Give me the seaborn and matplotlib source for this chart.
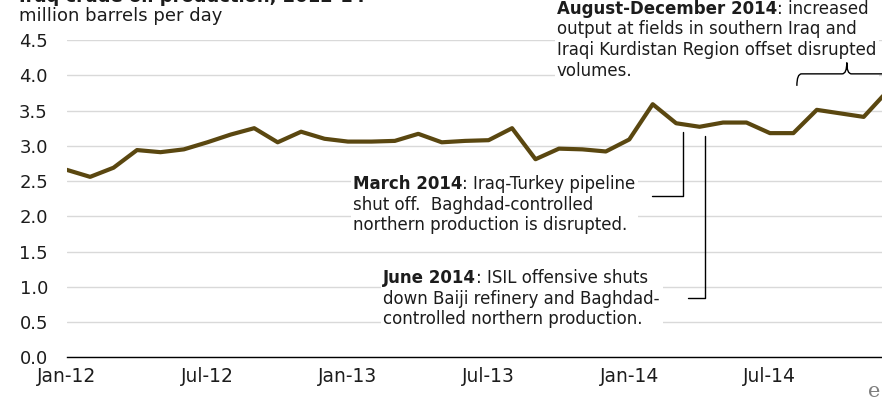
import numpy as np
import pandas as pd
import matplotlib
matplotlib.use("Agg")
import matplotlib.pyplot as plt
import seaborn as sns
from matplotlib.patches import Rectangle, PathPatch
from matplotlib.path import Path
from matplotlib.transforms import Bbox

# Monthly Iraq crude oil production, million barrels per day
months = pd.date_range("2012-01-01", "2014-12-01", freq="MS")
production = [2.66, 2.56, 2.69, 2.94, 2.91, 2.95, 3.05, 3.16, 3.25, 3.05, 3.20, 3.10,
              3.06, 3.06, 3.07, 3.17, 3.05, 3.07, 3.08, 3.25, 2.81, 2.96, 2.95, 2.92,
              3.09, 3.59, 3.32, 3.27, 3.33, 3.33, 3.18, 3.18, 3.51, 3.46, 3.41, 3.77]
tick_labels = ["Jan-12", "Jul-12", "Jan-13", "Jul-13", "Jan-14", "Jul-14"]
y_ticks = [0.0, 0.5, 1.0, 1.5, 2.0, 2.5, 3.0, 3.5, 4.0, 4.5]

df = pd.DataFrame({"month": np.arange(len(months)), "production": production})

sns.set_style("white")
plt.rcParams["font.family"] = ["DejaVu Sans"]
TXT = "#1c1c1c"
FS = 13
NOTE_FS = 12

fig = plt.figure(figsize=(8.82, 3.98), dpi=100)
ax = fig.add_axes([0.0756, 0.1018, 1.0058 - 0.0756, 0.8995 - 0.1018])

sns.lineplot(data=df, x="month", y="production", ax=ax,
             color="#5a4710", linewidth=3.0, zorder=3)

ax.set_xlim(0, 35)
ax.set_ylim(0, 4.5)
ax.set_xlabel("")
ax.set_ylabel("")

ax.set_yticks(y_ticks)
ax.set_yticklabels([f"{v:.1f}" for v in y_ticks])
ax.set_xticks(np.arange(0, 36, 6))
ax.set_xticklabels(tick_labels)
ax.set_xticks(np.arange(0, 36), minor=True)

ax.set_axisbelow(True)
ax.yaxis.grid(True, color="#d9d9d9", linewidth=1.0)
ax.xaxis.grid(False)
for side in ("top", "right", "left"):
    ax.spines[side].set_visible(False)
ax.spines["bottom"].set_color("black")
ax.spines["bottom"].set_linewidth(1.0)

ax.tick_params(axis="y", length=0, pad=13.5, labelsize=FS, labelcolor=TXT)
ax.tick_params(axis="x", which="both", length=3.6, width=1.0, direction="out",
               color="black", pad=3, labelsize=13.5, labelcolor=TXT)

# Title (runs off the top edge) and unit label
fig.text(19 / 882, 1 - 1.5 / 398, "Iraq crude oil production, 2012-14",
         fontsize=FS, fontweight="bold", color=TXT, va="baseline", ha="left")
fig.text(19 / 882, 1 - 20.7 / 398, "million barrels per day",
         fontsize=FS, color=TXT, va="baseline", ha="left")

# Annotations
step = 0.293  # line spacing in data units


def note(x, y0, bold, rest, lines, box_extra_bottom=3):
    t1 = ax.text(x, y0, bold, fontsize=NOTE_FS, fontweight="bold", color=TXT,
                 va="baseline", ha="left", zorder=4, clip_on=False)
    t2 = ax.annotate(rest, xy=(1, 0), xycoords=t1, fontsize=NOTE_FS, color=TXT,
                     va="bottom", ha="left", zorder=4)
    texts = [t1, t2]
    for i, line in enumerate(lines):
        texts.append(ax.text(x, y0 - (i + 1) * step, line, fontsize=NOTE_FS, color=TXT,
                             va="baseline", ha="left", zorder=4, clip_on=False))
    return texts, box_extra_bottom


blocks = [
    note(12.2, 2.386, "March 2014", ": Iraq-Turkey pipeline",
         ["shut off.  Baghdad-controlled", "northern production is disrupted."]),
    note(13.5, 1.056, "June 2014", ": ISIL offensive shuts",
         ["down Baiji refinery and Baghdad-", "controlled northern production."]),
    note(20.9, 4.875, "August-December 2014", ": increased",
         ["output at fields in southern Iraq and",
          "Iraqi Kurdistan Region offset disrupted", "volumes."], box_extra_bottom=-3),
]

# Connector lines
ax.plot([24.97, 26.28, 26.28], [2.29, 2.29, 3.20], color="black", lw=1.0,
        zorder=2, clip_on=False)
ax.plot([26.5, 27.23, 27.23], [0.84, 0.84, 3.14], color="black", lw=1.0,
        zorder=2, clip_on=False)

# Curly bracket spanning August-December 2014
verts = [(31.15, 3.85), (31.15, 4.02), (31.35, 4.02),
         (33.08, 4.02),
         (33.28, 4.02), (33.28, 4.18),
         (33.28, 4.02), (33.48, 4.02),
         (35.6, 4.02)]
codes = [Path.MOVETO, Path.CURVE3, Path.CURVE3,
         Path.LINETO,
         Path.CURVE3, Path.CURVE3,
         Path.CURVE3, Path.CURVE3,
         Path.LINETO]
ax.add_patch(PathPatch(Path(verts, codes), fill=False, edgecolor="black",
                       lw=1.0, zorder=2, clip_on=False))

# Small logo mark in the corner
fig.text(868 / 882, 1 - 397 / 398, "e", fontsize=15, family="DejaVu Serif",
         color="#7f7f7f", va="baseline", ha="left")

# White backing behind each annotation block so gridlines break around the text
fig.canvas.draw()
renderer = fig.canvas.get_renderer()
inv = fig.transFigure.inverted()
for texts, extra in blocks:
    bb = Bbox.union([t.get_window_extent(renderer) for t in texts])
    x0, y0, x1, y1 = bb.x0 - 2, bb.y0 - extra, bb.x1 + 3, bb.y1 + 1
    (fx0, fy0), (fx1, fy1) = inv.transform([(x0, y0), (x1, y1)])
    rect = Rectangle((fx0, fy0), fx1 - fx0, fy1 - fy0, transform=fig.transFigure,
                     facecolor="white", edgecolor="none", zorder=1)
    ax.add_artist(rect)
    rect.set_clip_on(False)

fig.savefig("out.png", dpi=100)
